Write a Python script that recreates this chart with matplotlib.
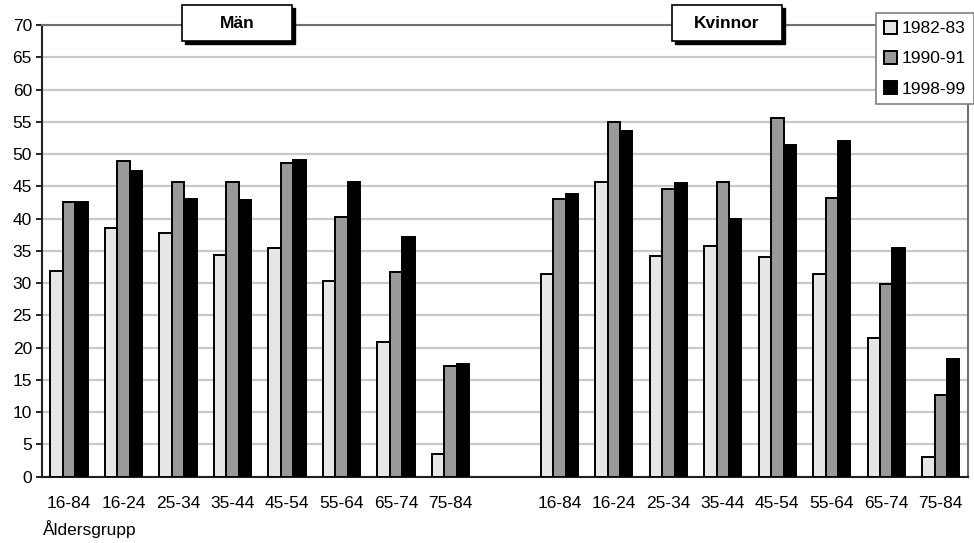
import numpy as np
import matplotlib.pyplot as plt
from matplotlib.patches import Rectangle

plt.rcParams['font.family'] = ['Liberation Sans', 'DejaVu Sans']

age_groups = ['16-84', '16-24', '25-34', '35-44', '45-54', '55-64', '65-74', '75-84']
periods = ['1982-83', '1990-91', '1998-99']

# Män
men_8283 = [31.8, 38.6, 37.7, 34.4, 35.5, 30.4, 20.8, 3.5]
men_9091 = [42.5, 49.0, 45.7, 45.6, 48.6, 40.3, 31.7, 17.2]
men_9899 = [42.6, 47.3, 43.1, 42.9, 49.1, 45.6, 37.1, 17.4]

# Kvinnor
women_8283 = [31.4, 45.6, 34.2, 35.7, 34.0, 31.4, 21.5, 3.1]
women_9091 = [43.0, 54.9, 44.6, 45.6, 55.6, 43.2, 29.8, 12.6]
women_9899 = [43.8, 53.6, 45.5, 39.9, 51.4, 52.0, 35.4, 18.3]

colors = ['#e6e6e6', '#999999', '#000000']

W, H = 974, 543
fig = plt.figure(figsize=(W / 100, H / 100), dpi=100)
ax = fig.add_axes([41.7 / W, (H - 476.7) / H, (968 - 41.7) / W, (476.7 - 25) / H])

# 8 slots men, one empty slot, 8 slots women
x_men = np.arange(8)
x_women = np.arange(8) + 9
bw = 0.228

series_men = [men_8283, men_9091, men_9899]
series_women = [women_8283, women_9091, women_9899]
for i in range(3):
    off = (i - 1) * bw
    ax.bar(x_men + off, series_men[i], bw, color=colors[i], edgecolor='black',
           linewidth=1.4, label=periods[i], zorder=3)
    ax.bar(x_women + off, series_women[i], bw, color=colors[i], edgecolor='black',
           linewidth=1.4, zorder=3)

ax.set_xlim(-0.5, 16.5)
ax.set_ylim(0, 70)
ax.set_yticks(np.arange(0, 71, 5))
ax.set_xticks(list(x_men) + list(x_women))
ax.set_xticklabels(age_groups + age_groups)
ax.tick_params(axis='x', length=0, pad=14, labelsize=12.5)
ax.tick_params(axis='y', length=4, width=1.2, pad=3, labelsize=12.5)
ax.yaxis.grid(True, color='#c8c8c8', linewidth=1.6, zorder=0)
ax.set_axisbelow(True)

for s in ['left', 'bottom']:
    ax.spines[s].set_color('#222222')
    ax.spines[s].set_linewidth(1.5)
for s in ['top', 'right']:
    ax.spines[s].set_color('#707070')
    ax.spines[s].set_linewidth(1.5)

fig.text(43 / W, 1 - 529 / H, 'Åldersgrupp', fontsize=12.5, ha='left', va='center')

# title boxes with shadow
def title_box(x0, x1, y0, y1, text):
    sh = 3
    fig.add_artist(Rectangle(((x0 + sh) / W, 1 - (y1 + sh) / H), (x1 - x0) / W, (y1 - y0) / H,
                             transform=fig.transFigure, facecolor='black', edgecolor='black',
                             zorder=10))
    fig.add_artist(Rectangle((x0 / W, 1 - y1 / H), (x1 - x0) / W, (y1 - y0) / H,
                             transform=fig.transFigure, facecolor='white', edgecolor='black',
                             linewidth=1.2, zorder=11))
    fig.text((x0 + x1) / 2 / W, 1 - (y0 + y1) / 2 / H, text, fontsize=12.5,
             fontweight='bold', ha='center', va='center', zorder=12)

title_box(182, 292, 5, 41, 'Män')
title_box(672, 782, 5, 41, 'Kvinnor')

leg = fig.legend(loc='upper left', bbox_to_anchor=(876 / W, 1 - 13 / H), fontsize=12.5,
                 handlelength=0.75, handleheight=0.75, handletextpad=0.3,
                 labelspacing=0.85, borderpad=0.45, borderaxespad=0,
                 frameon=True, fancybox=False, framealpha=1)
leg.get_frame().set_edgecolor('#808080')
leg.get_frame().set_linewidth(1.2)
leg.set_zorder(20)

fig.savefig('out.png', dpi=100)
